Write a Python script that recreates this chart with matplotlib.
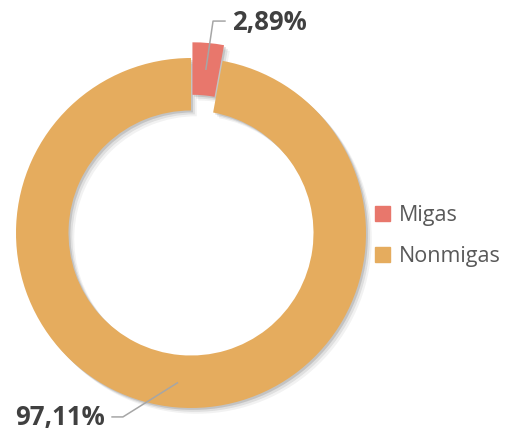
import numpy as np
import matplotlib
matplotlib.use("Agg")
import matplotlib.pyplot as plt

# data
labels = ["Migas", "Nonmigas"]
values = [2.89, 97.11]
colors = ["#E8776C", "#E5AC5E"]
pct_text = ["2,89%", "97,11%"]

W, H = 507, 433
cx, cy, R = 191, 233, 175  # pixel center / radius of donut

fig = plt.figure(figsize=(W / 100, H / 100), dpi=100)
ax = fig.add_axes([(cx - R) / W, (H - cy - R) / H, 2 * R / W, 2 * R / H])
ax.set_aspect("equal")
ax.axis("off")

ring = 0.30
explode = [0.09, 0.0]

# soft shadow under the ring (offset to lower right)
for k, a in enumerate([0.12, 0.08, 0.05]):
    off = 0.011 * (k + 1)
    ax.pie(values, radius=1.0, startangle=90, counterclock=False,
           explode=explode, colors=["#000000"] * 2,
           wedgeprops=dict(width=ring, alpha=a, linewidth=0),
           center=(off, -off))

wedges, _ = ax.pie(values, radius=1.0, startangle=90, counterclock=False,
                   explode=explode, colors=colors,
                   wedgeprops=dict(width=ring, linewidth=0))
for p in ax.patches:
    p.set_clip_on(False)
ax.set_xlim(-1, 1)
ax.set_ylim(-1, 1)

# data labels with leader lines
font = dict(family=["Open Sans", "DejaVu Sans"], fontweight="bold",
            fontsize=18.5, color="#404040")
line_kw = dict(color="#A6A6A6", lw=1.1)
mid_r = 1 - ring / 2

# Migas label (top)
w = wedges[0]
mid = np.deg2rad((w.theta1 + w.theta2) / 2)
ax_x = (mid_r + explode[0]) * np.cos(mid)
ax_y = (mid_r + explode[0]) * np.sin(mid)
ax.plot([ax_x, 0.126, 0.194], [ax_y, 1.211, 1.211], clip_on=False, **line_kw)
ax.text(0.235, 1.205, pct_text[0], ha="left", va="center", **font)

# Nonmigas label (bottom)
w = wedges[1]
mid = np.deg2rad((w.theta1 + w.theta2) / 2)
bx = 0.86 * np.cos(mid)
by = 0.86 * np.sin(mid)
ax.plot([bx, -0.389, -0.451], [by, -1.051, -1.051], clip_on=False, **line_kw)
ax.text(-0.49, -1.055, pct_text[1], ha="right", va="center", **font)

# legend
handles = [plt.Rectangle((0, 0), 1, 1, color=c) for c in colors]
fig.legend(handles, labels, loc="center left",
           bbox_to_anchor=(375 / W, 1 - 236 / H), frameon=False,
           borderpad=0, borderaxespad=0,
           prop=dict(family=["Open Sans", "DejaVu Sans"], size=15.5),
           labelcolor="#595959", handlelength=0.7, handleheight=0.7,
           handletextpad=0.4, labelspacing=0.95)

fig.savefig("out.png", dpi=100, facecolor="white")
